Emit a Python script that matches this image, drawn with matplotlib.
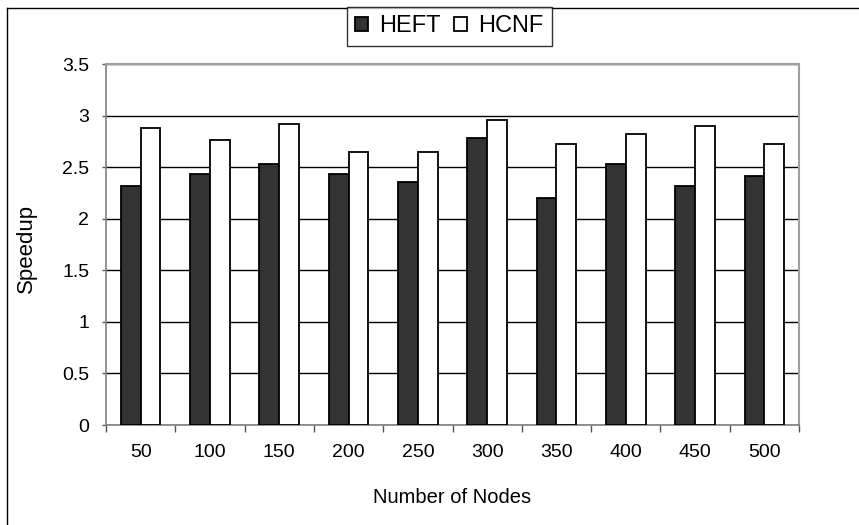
import matplotlib as mpl
import matplotlib.pyplot as plt
import numpy as np

nodes = ["50", "100", "150", "200", "250", "300", "350", "400", "450", "500"]
heft = [2.32, 2.43, 2.53, 2.43, 2.36, 2.78, 2.20, 2.53, 2.32, 2.41]
hcnf = [2.88, 2.76, 2.92, 2.65, 2.65, 2.96, 2.72, 2.82, 2.90, 2.72]


def main():
    plt.rcParams["font.family"] = ["Liberation Sans", "DejaVu Sans"]
    plt.rcParams["font.size"] = 14

    fig = plt.figure(figsize=(8.59, 5.25), dpi=100)
    ax = fig.add_axes([106 / 859, 1 - 425 / 525, 693 / 859, 361 / 525])

    x = np.arange(len(nodes))
    w = 1 / 3.5
    ax.bar(x - w / 2, heft, w, color="#333333", edgecolor="black", linewidth=1.3,
           label="HEFT", zorder=3)
    ax.bar(x + w / 2, hcnf, w, color="white", edgecolor="black", linewidth=1.3,
           label="HCNF", zorder=3)

    ax.set_xlim(-0.5, len(nodes) - 0.5)
    ax.set_ylim(0, 3.5)
    ax.set_yticks(np.arange(0, 3.51, 0.5))
    ax.set_yticklabels(["0", "0.5", "1", "1.5", "2", "2.5", "3", "3.5"])
    ax.yaxis.grid(True, color="black", linewidth=1.0, zorder=0)
    ax.set_axisbelow(True)

    ax.set_xticks(x)
    ax.set_xticklabels(nodes)
    ax.set_xticks(np.arange(-0.5, len(nodes), 1.0), minor=True)
    ax.tick_params(axis="x", which="major", length=0, pad=14)
    ax.tick_params(axis="x", which="minor", length=5, width=1, color="#555555")
    ax.tick_params(axis="y", length=3, width=1, color="#555555", pad=9)

    for side in ["top", "right"]:
        ax.spines[side].set_color("#a0a0a0")
        ax.spines[side].set_linewidth(1.5)
    ax.spines["left"].set_color("#808080")
    ax.spines["left"].set_linewidth(1.2)
    ax.spines["bottom"].set_color("#808080")
    ax.spines["bottom"].set_linewidth(1.2)

    ax.set_xlabel("Number of Nodes", fontsize=14.5)
    ax.xaxis.set_label_coords(0.5, -0.175)
    ax.set_ylabel("Speedup", fontsize=16)
    ax.yaxis.set_label_coords(-0.10, 0.49)

    leg = fig.legend(loc="upper center", bbox_to_anchor=(0.523, 1 - 7 / 525), ncol=2,
                     fontsize=17, frameon=True, fancybox=False, shadow=False,
                     handlelength=0.55, handleheight=0.55, handletextpad=0.45,
                     columnspacing=0.6, borderpad=0.35, borderaxespad=0)
    leg.get_frame().set_edgecolor("black")
    leg.get_frame().set_linewidth(1.0)

    # outer frame (left and top edges visible)
    fig.add_artist(plt.Line2D([7 / 859, 7 / 859], [0, 1 - 8 / 525], color="black",
                              linewidth=1.0, transform=fig.transFigure))
    fig.add_artist(plt.Line2D([7 / 859, 1], [1 - 8 / 525, 1 - 8 / 525], color="black",
                              linewidth=1.0, transform=fig.transFigure))

    fig.savefig("out.png", dpi=100)
    plt.close()


if __name__ == '__main__':
    main()
